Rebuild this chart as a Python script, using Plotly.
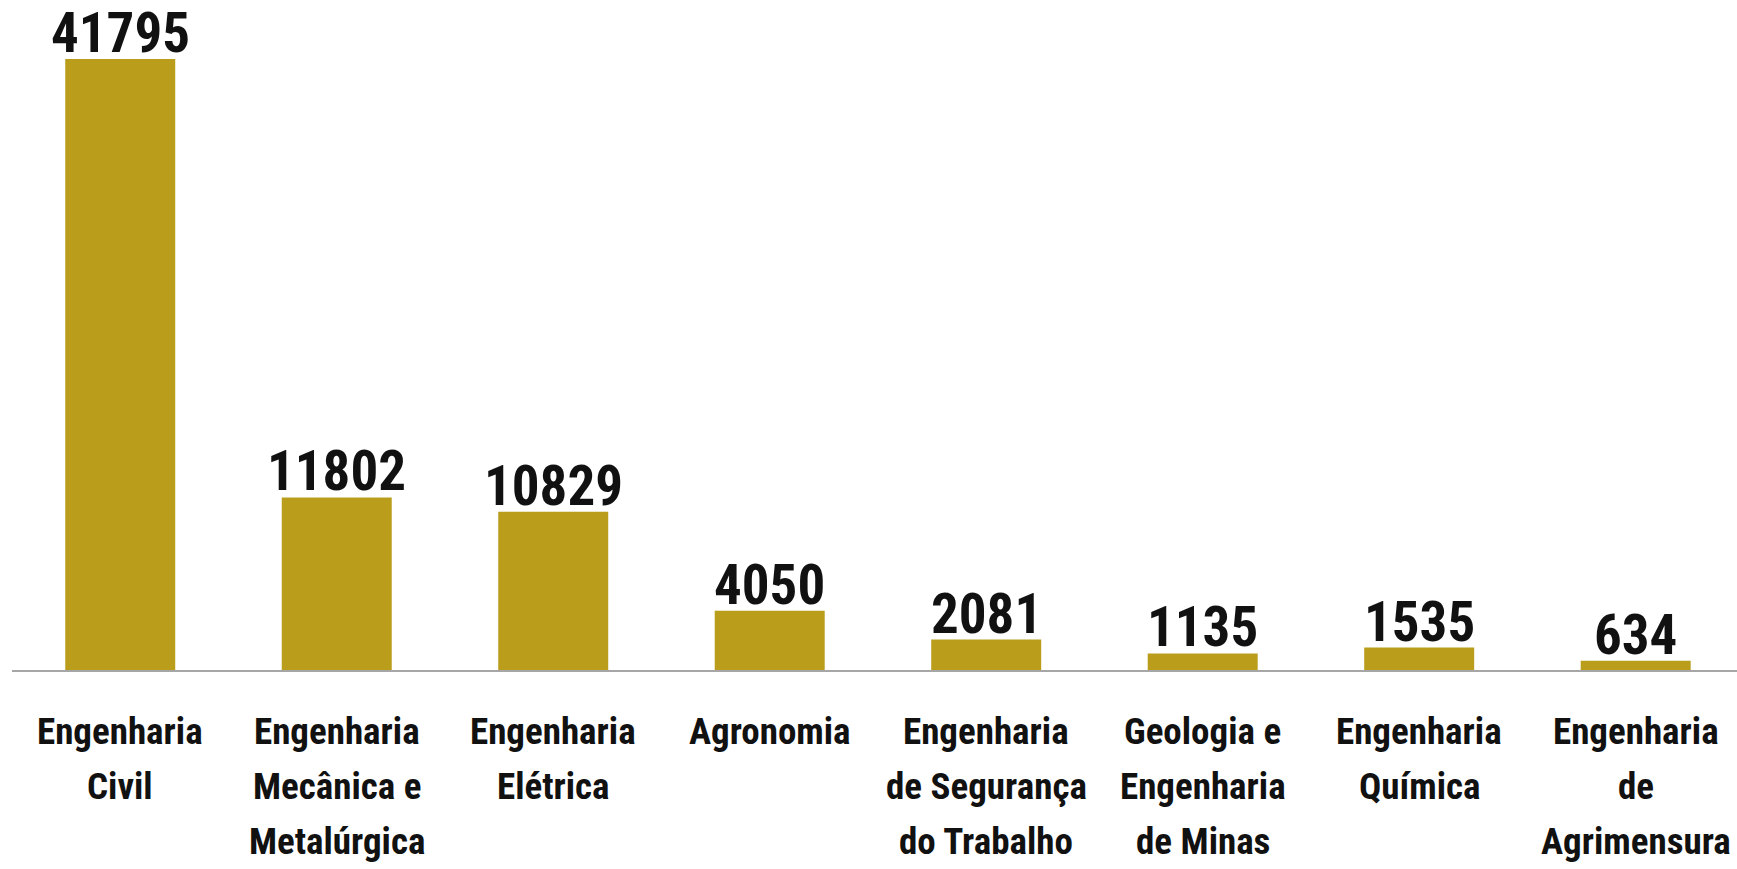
import plotly.graph_objects as go

categories = [
    "Engenharia Civil",
    "Engenharia Mecânica e Metalúrgica",
    "Engenharia Elétrica",
    "Agronomia",
    "Engenharia de Segurança do Trabalho",
    "Geologia e Engenharia de Minas",
    "Engenharia Química",
    "Engenharia de Agrimensura",
]
label_lines = [
    ["Engenharia", "Civil"],
    ["Engenharia", "Mecânica e", "Metalúrgica"],
    ["Engenharia", "Elétrica"],
    ["Agronomia"],
    ["Engenharia", "de Segurança", "do Trabalho"],
    ["Geologia e", "Engenharia", "de Minas"],
    ["Engenharia", "Química"],
    ["Engenharia", "de", "Agrimensura"],
]
values = [41795, 11802, 10829, 4050, 2081, 1135, 1535, 634]

FONT = "Roboto Condensed, Arial Narrow, Roboto, sans-serif"
BAR_COLOR = "#B99D1B"
xs = list(range(len(categories)))

fig = go.Figure(
    go.Bar(
        x=xs,
        y=values,
        marker=dict(color=BAR_COLOR, line=dict(width=0)),
        hovertext=categories,
        width=0.508,
    )
)

annotations = []
for i, v in zip(xs, values):
    annotations.append(
        dict(
            x=i,
            y=v,
            xref="x",
            yref="y",
            text=str(v),
            showarrow=False,
            xanchor="center",
            yanchor="bottom",
            yshift=-8,
            font=dict(family=FONT, size=55, color="#111111", weight="bold"),
        )
    )
for i, lines in enumerate(label_lines):
    for j, line in enumerate(lines):
        annotations.append(
            dict(
                x=i,
                y=0,
                xref="x",
                yref="y",
                text=line,
                showarrow=False,
                xanchor="center",
                yanchor="middle",
                yshift=-(61 + 55 * j),
                font=dict(family=FONT, size=37, color="#111111", weight="bold"),
            )
        )

fig.update_layout(
    width=1737,
    height=869,
    margin=dict(l=12, r=0, t=10, b=199),
    paper_bgcolor="white",
    plot_bgcolor="white",
    showlegend=False,
    annotations=annotations,
    xaxis=dict(
        range=[-0.5, 7.468],
        showticklabels=False,
        showgrid=False,
        zeroline=False,
        showline=True,
        linecolor="#A6A6A6",
        linewidth=2,
        ticks="",
    ),
    yaxis=dict(
        range=[0, 45147],
        visible=False,
        showgrid=False,
        zeroline=False,
    ),
)

fig.write_html(
    "out.html",
    config={"displayModeBar": False},
    post_script="document.body.style.margin='0';document.body.style.overflow='hidden';",
)
